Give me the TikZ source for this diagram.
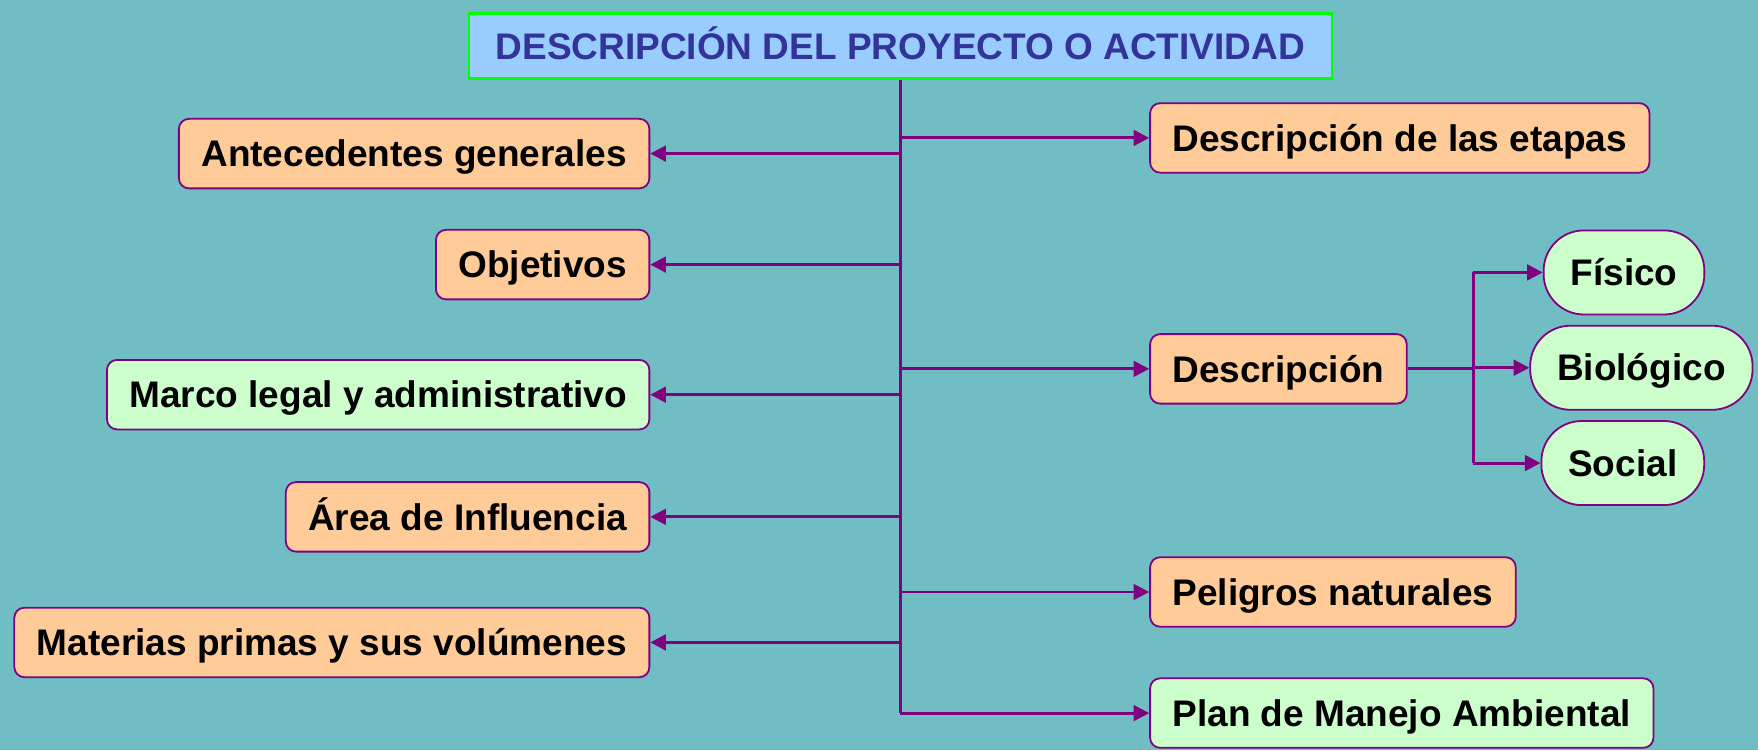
\documentclass[tikz,border=0pt]{standalone}
\usepackage{fontspec}
\setmainfont{Liberation Sans}
\usetikzlibrary{arrows.meta}
\definecolor{bgteal}{HTML}{70BEC4}
\definecolor{boxorange}{HTML}{FFCC99}
\definecolor{boxgreen}{HTML}{CCFFCC}
\definecolor{titleblue}{HTML}{99CCFF}
\definecolor{titletext}{HTML}{333399}
\definecolor{linepurple}{HTML}{800080}
\tikzset{
  item/.style={draw=linepurple, line width=1.6pt, rounded corners=9pt,
    minimum height=62pt, inner xsep=20pt, text height=23.6pt, text depth=0pt,
    font=\fontsize{33}{40}\selectfont\bfseries},
  orangebox/.style={item, fill=boxorange},
  greenbox/.style={item, fill=boxgreen},
  roundbox/.style={item, fill=boxgreen, rounded corners=36pt, minimum height=75pt, inner xsep=24pt},
  link/.style={draw=linepurple, line width=2.6pt, -{Triangle[length=14pt,width=14pt]}},
  trunkline/.style={draw=linepurple, line width=2.6pt}
}
\begin{document}
\begin{tikzpicture}[x=1pt,y=-1pt]
  \fill[bgteal] (0,0) rectangle (1568,669);
  \useasboundingbox (0,0) rectangle (1568,669);

  % title
  \node[draw=green, line width=2pt, fill=titleblue, minimum width=770pt, minimum height=58pt,
    text height=23.6pt, text depth=0pt,
    font=\fontsize{33}{40}\selectfont\bfseries, text=titletext] (top) at (803,41)
    {DESCRIPCIÓN DEL PROYECTO O ACTIVIDAD};

  % left column
  \node[orangebox, anchor=east] (ante) at (580,137) {Antecedentes generales};
  \node[orangebox, anchor=east] (obj) at (580,236) {Objetivos};
  \node[greenbox, anchor=east] (marco) at (580,352) {Marco legal y administrativo};
  \node[orangebox, anchor=east] (area) at (580,461) {Área de Influencia};
  \node[orangebox, anchor=east] (mat) at (580,573) {Materias primas y sus volúmenes};

  % right column
  \node[orangebox, anchor=west] (etapas) at (1025,123) {Descripción de las etapas};
  \node[orangebox, anchor=west] (desc) at (1025,329) {Descripción};
  \node[orangebox, anchor=west] (peli) at (1025,528) {Peligros naturales};
  \node[greenbox, anchor=west] (plan) at (1025,636) {Plan de Manejo Ambiental};

  % components
  \node[roundbox, anchor=west] (fis) at (1376,243) {Físico};
  \node[roundbox, anchor=west] (bio) at (1364,328) {Biológico};
  \node[roundbox, anchor=west] (soc) at (1374,413) {Social};
  \coordinate (fork) at (1314,329);

  \draw[trunkline] (top.south) -- (top.south |- plan.west);
  \foreach \n in {ante, obj, marco, area, mat, etapas, desc, peli, plan}
    \draw[link] (top.south |- \n) -- (\n);

  \draw[trunkline] (desc.east) -- (fork);
  \draw[trunkline] (fork |- fis.west) -- (fork |- soc.west);
  \foreach \n in {fis, bio, soc}
    \draw[link] (fork |- \n.west) -- (\n.west);
\end{tikzpicture}
\end{document}
